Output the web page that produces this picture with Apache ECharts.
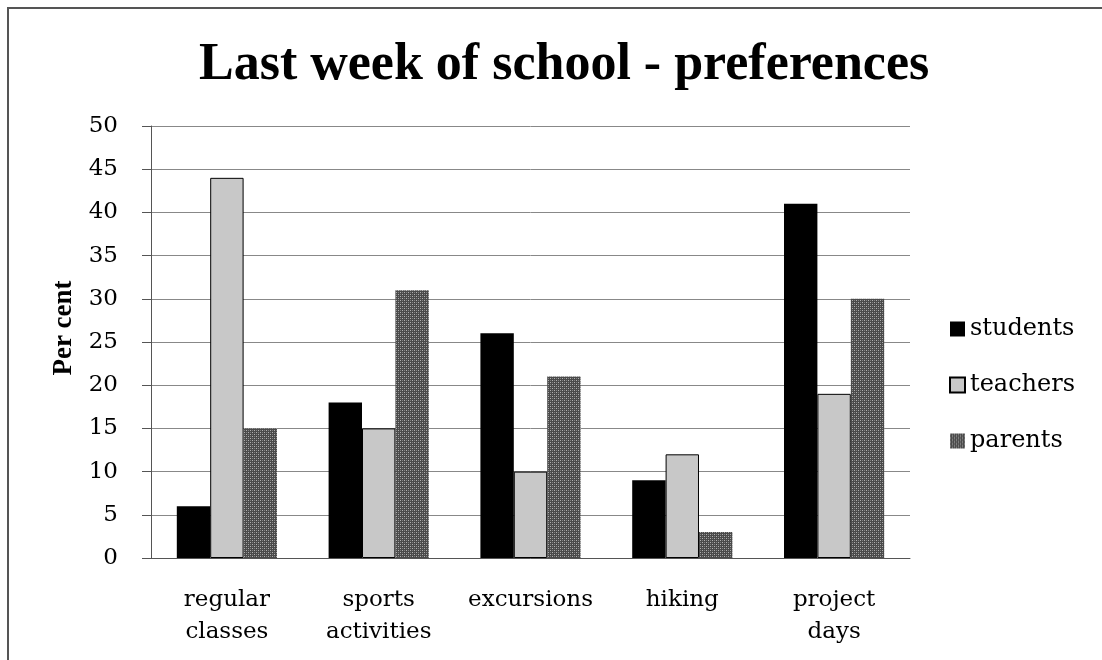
<!DOCTYPE html>
<html lang="en">
<head>
    <meta charset="UTF-8">
    <title>Last week of school - preferences</title>
    <script src="https://cdn.jsdelivr.net/npm/echarts@6/dist/echarts.min.js"></script>
    <style>
        html, body { margin: 0; padding: 0; background: #fff; }
        #main { width: 1102px; height: 660px; }
        .frame {
            position: absolute; left: 7px; top: 7px;
            width: 1200px; height: 800px;
            border: 2px solid #555;
            pointer-events: none;
        }
    </style>
</head>
<body>
<div id="main"></div>
<div class="frame"></div>

<script type="text/javascript">
    var categories = ['regular\nclasses', 'sports\nactivities', 'excursions', 'hiking', 'project\ndays'];
    var students = [6, 18, 26, 9, 41];
    var teachers = [44, 15, 10, 12, 19];
    var parents = [15, 31, 21, 3, 30];

    // dotted texture for the parents bars
    var pat = document.createElement('canvas');
    pat.width = 4;
    pat.height = 4;
    var ctx = pat.getContext('2d');
    ctx.fillStyle = '#4a4a4a';
    ctx.fillRect(0, 0, 4, 4);
    ctx.fillStyle = '#b0b0b0';
    ctx.fillRect(0, 0, 1, 1);
    ctx.fillRect(2, 2, 1, 1);
    ctx.fillStyle = '#808080';
    ctx.fillRect(2, 0, 1, 1);
    ctx.fillRect(0, 2, 1, 1);

    var serif = '"Liberation Serif", serif';
    var body = '"DejaVu Serif", serif';
    var myChart = echarts.init(document.getElementById('main'));

    var option = {
        backgroundColor: '#fff',
        animation: false,
        title: {
            text: 'Last week of school - preferences',
            left: 194,
            top: 35,
            textStyle: { fontFamily: serif, fontSize: 52, fontWeight: 'bold', color: '#000' }
        },
        legend: {
            orient: 'vertical',
            left: 944,
            top: 312,
            icon: 'rect',
            itemWidth: 15,
            itemHeight: 15,
            itemGap: 32,
            textStyle: { fontFamily: body, fontSize: 24, color: '#000' },
            data: ['students', 'teachers', 'parents']
        },
        grid: { left: 151, right: 192, top: 126, bottom: 102 },
        xAxis: {
            type: 'category',
            data: categories,
            axisLine: { lineStyle: { color: '#555', width: 1 } },
            axisTick: { show: false },
            axisLabel: {
                fontFamily: body, fontSize: 23, color: '#000',
                lineHeight: 32, margin: 26, interval: 0
            }
        },
        yAxis: {
            type: 'value',
            min: 0,
            max: 50,
            interval: 5,
            name: 'Per cent',
            nameLocation: 'middle',
            nameGap: 72,
            nameTextStyle: {
                fontFamily: serif, fontSize: 27, fontWeight: 'bold', color: '#000',
                padding: [0, 0, 0, 28]
            },
            axisLine: { show: true, lineStyle: { color: '#555', width: 1 } },
            axisTick: { show: true, inside: false, length: 9, lineStyle: { color: '#555' } },
            axisLabel: { fontFamily: body, fontSize: 23, color: '#000', margin: 33 },
            splitLine: { lineStyle: { color: '#888', width: 1 } }
        },
        series: [
            {
                name: 'students',
                type: 'bar',
                data: students,
                barGap: '0%',
                barCategoryGap: '34%',
                itemStyle: { color: '#000' }
            },
            {
                name: 'teachers',
                type: 'bar',
                data: teachers,
                itemStyle: { color: '#c8c8c8', borderColor: '#000', borderWidth: 1 }
            },
            {
                name: 'parents',
                type: 'bar',
                data: parents,
                itemStyle: { color: { image: pat, repetition: 'repeat' } }
            }
        ]
    };
    myChart.setOption(option);
</script>
</body>
</html>
